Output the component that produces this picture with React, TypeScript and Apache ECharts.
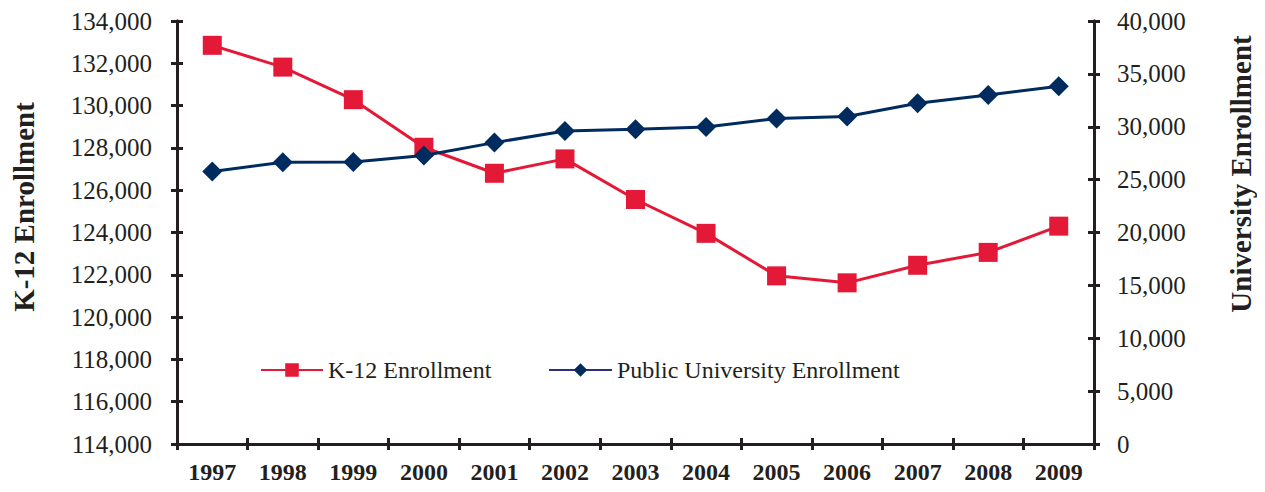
import React, { useEffect, useRef } from "react";
import * as echarts from "echarts";

const years = ["1997","1998","1999","2000","2001","2002","2003","2004","2005","2006","2007","2008","2009"];
const k12 = [132850, 131820, 130280, 128030, 126800, 127480, 125560, 123960, 121950, 121620, 122450, 123060, 124300];
const university = [25770, 26650, 26660, 27280, 28500, 29600, 29770, 29980, 30780, 30970, 32220, 33010, 33830];
const leftTicks = { min: 114000, max: 134000, interval: 2000 };
const rightTicks = { min: 0, max: 40000, interval: 5000 };

const RED = "#E31937";
const NAVY = "#002B5F";
const LEGEND_NAVY = "#2B2F7E";
const INK = "#231F20";
const FONT = "'Liberation Serif', 'Times New Roman', serif";

export default function App() {
  const ref = useRef<HTMLDivElement>(null);
  useEffect(() => {
    if (!ref.current) return;
    const chart = echarts.init(ref.current, null, { renderer: "svg" });
    const fmt = (v: number) => v.toLocaleString("en-US");
    const axisLine = { show: true, lineStyle: { color: INK, width: 3 } };
    const tick = (inside: boolean) => ({ show: true, inside, length: 6, lineStyle: { color: INK, width: 3 } });
    const legendText = { fontFamily: FONT, fontSize: 24, color: INK };
    chart.setOption({
      animation: false,
      backgroundColor: "#ffffff",
      grid: { left: 177, right: 171, top: 21, bottom: 48 },
      legend: [
        {
          data: [{ name: "K-12 Enrollment" }],
          left: 260,
          top: 358,
          padding: 0,
          itemWidth: 62,
          itemHeight: 17,
          itemGap: 6,
          textStyle: legendText,
        },
        {
          data: [{ name: "Public University Enrollment", lineStyle: { color: LEGEND_NAVY } }],
          left: 548,
          top: 358,
          padding: 0,
          itemWidth: 63,
          itemHeight: 17,
          textStyle: legendText,
        },
      ],
      xAxis: [
        {
          type: "category",
          data: years,
          boundaryGap: true,
          axisLine,
          axisTick: tick(false),
          axisLabel: { fontFamily: FONT, fontSize: 24, fontWeight: "bold", color: INK, margin: 16 },
        },
        {
          type: "category",
          data: years,
          position: "bottom",
          boundaryGap: true,
          axisLine,
          axisTick: tick(true),
          axisLabel: { show: false },
        },
      ],
      yAxis: [
        {
          type: "value",
          ...leftTicks,
          position: "left",
          axisLine,
          axisTick: tick(false),
          axisLabel: { fontFamily: FONT, fontSize: 25, color: INK, margin: 25, formatter: fmt },
          splitLine: { show: false },
        },
        {
          type: "value",
          ...rightTicks,
          position: "right",
          axisLine,
          axisTick: tick(false),
          axisLabel: { fontFamily: FONT, fontSize: 25, color: INK, margin: 23, formatter: fmt },
          splitLine: { show: false },
        },
        {
          type: "value",
          ...leftTicks,
          position: "left",
          axisLine,
          axisTick: tick(true),
          axisLabel: { show: false },
          splitLine: { show: false },
        },
        {
          type: "value",
          ...rightTicks,
          position: "right",
          axisLine,
          axisTick: tick(true),
          axisLabel: { show: false },
          splitLine: { show: false },
        },
      ],
      series: [
        {
          name: "K-12 Enrollment",
          type: "line",
          data: k12,
          yAxisIndex: 0,
          symbol: "rect",
          symbolSize: 19,
          lineStyle: { color: RED, width: 3 },
          itemStyle: { color: RED },
          z: 3,
        },
        {
          name: "Public University Enrollment",
          type: "line",
          data: university,
          yAxisIndex: 1,
          symbol: "diamond",
          symbolSize: 20,
          lineStyle: { color: NAVY, width: 3 },
          itemStyle: { color: NAVY },
          z: 4,
        },
      ],
      graphic: [
        {
          type: "text",
          x: 24,
          y: 207,
          rotation: Math.PI / 2,
          style: {
            text: "K-12 Enrollment",
            font: `bold 29px ${FONT}`,
            fill: INK,
            align: "center",
            verticalAlign: "middle",
          },
        },
        {
          type: "text",
          x: 1241,
          y: 174,
          rotation: Math.PI / 2,
          style: {
            text: "University Enrollment",
            font: `bold 29px ${FONT}`,
            fill: INK,
            align: "center",
            verticalAlign: "middle",
          },
        },
      ],
    });
    return () => chart.dispose();
  }, []);
  return <div ref={ref} style={{ width: 1265, height: 492, margin: -8 }} />;
}
